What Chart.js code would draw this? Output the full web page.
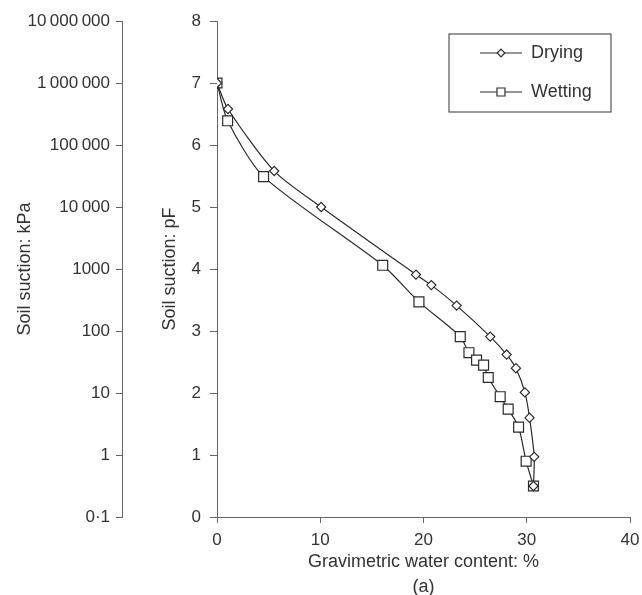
<!DOCTYPE html>
<html>
<head>
<meta charset="utf-8">
<script src="https://cdn.jsdelivr.net/npm/chart.js@4.4.1/dist/chart.umd.min.js"></script>
<style>
  html, body { margin: 0; padding: 0; background: #fff; }
  #wrap { width: 642px; height: 595px; }
</style>
</head>
<body>
<div id="wrap"><canvas id="suction-chart"></canvas></div>
<script>
/* soil water retention: drying vs wetting path */

const dryingWater = [0, 1.06, 5.54, 10.09, 19.27, 20.76, 23.21, 26.46, 28.05, 28.95, 29.82, 30.27, 30.72, 30.65];
const dryingPF    = [7.0, 6.58, 5.58, 5.0, 3.91, 3.74, 3.41, 2.91, 2.62, 2.40, 2.01, 1.60, 0.97, 0.50];

const wettingWater = [0, 1.03, 4.51, 16.05, 19.56, 23.56, 24.40, 25.14, 25.82, 26.27, 27.43, 28.20, 29.21, 29.94, 30.65];
const wettingPF    = [7.0, 6.39, 5.49, 4.06, 3.47, 2.91, 2.65, 2.53, 2.45, 2.25, 1.94, 1.74, 1.45, 0.90, 0.50];

const kpaTicks  = [0.1, 1, 10, 100, 1000, 10000, 100000, 1000000, 10000000];
const kpaLabels = ['0·1', '1', '10', '100', '1000', '10\u2009000', '100\u2009000', '1\u2009000\u2009000', '10\u2009000\u2009000'];

const FONT = "'Liberation Sans', Arial, sans-serif";
const INK = '#2b2b2b';
const AXIS = '#666';

function toPoints(xs, ys) {
    return xs.map((x, i) => ({ x: x, y: ys[i] }));
}

// small marker helper for the legend
function drawMarker(ctx, style, x, y, r) {
    ctx.beginPath();
    if (style === 'rectRot') {
        ctx.moveTo(x, y - r);
        ctx.lineTo(x + r, y);
        ctx.lineTo(x, y + r);
        ctx.lineTo(x - r, y);
    } else {
        ctx.rect(x - r, y - r, 2 * r, 2 * r);
    }
    ctx.closePath();
    ctx.fillStyle = '#fff';
    ctx.fill();
    ctx.stroke();
}

const legendBox = {
    id: 'legendBox',
    afterDatasetsDraw(chart) {
        const { ctx, chartArea } = chart;
        const bx = chartArea.right - 181, by = chartArea.top + 13, bw = 162, bh = 78;
        ctx.save();
        ctx.strokeStyle = '#555';
        ctx.lineWidth = 1.2;
        ctx.strokeRect(bx, by, bw, bh);

        const rows = [
            { label: chart.data.datasets[0].label, style: 'rectRot', r: 3.8, y: by + 19 },
            { label: chart.data.datasets[1].label, style: 'rect', r: 4, y: by + 58 }
        ];
        rows.forEach(row => {
            ctx.strokeStyle = INK;
            ctx.lineWidth = 1.2;
            ctx.beginPath();
            ctx.moveTo(bx + 31, row.y);
            ctx.lineTo(bx + 73, row.y);
            ctx.stroke();
            drawMarker(ctx, row.style, bx + 52, row.y, row.r);
            ctx.fillStyle = '#333';
            ctx.font = '18px ' + FONT;
            ctx.textBaseline = 'middle';
            ctx.textAlign = 'left';
            ctx.fillText(row.label, bx + 82, row.y);
        });
        ctx.restore();
    }
};

const ctx = document.getElementById('suction-chart').getContext('2d');
new Chart(ctx, {
    type: 'scatter',
    data: {
        datasets: [{
            label: 'Drying',
            data: toPoints(dryingWater, dryingPF),
            showLine: true,
            tension: 0.25,
            borderColor: INK,
            borderWidth: 1.2,
            pointStyle: 'rectRot',
            pointRadius: 4.6,
            pointBackgroundColor: '#fff',
            pointBorderColor: INK,
            pointBorderWidth: 1.2,
            yAxisID: 'pf'
        }, {
            label: 'Wetting',
            data: toPoints(wettingWater, wettingPF),
            showLine: true,
            tension: 0.25,
            borderColor: INK,
            borderWidth: 1.2,
            pointStyle: 'rect',
            pointRadius: 7,
            pointBackgroundColor: '#fff',
            pointBorderColor: INK,
            pointBorderWidth: 1.2,
            yAxisID: 'pf'
        }]
    },
    options: {
        responsive: true,
        maintainAspectRatio: false,
        animation: false,
        layout: { padding: { top: 21, right: 12, left: 0, bottom: 0 } },
        plugins: {
            legend: { display: false },
            tooltip: { enabled: false }
        },
        scales: {
            x: {
                type: 'linear',
                position: 'bottom',
                min: 0, max: 40,
                ticks: { stepSize: 10, color: '#333', padding: 7, font: { family: FONT, size: 17 } },
                grid: { drawOnChartArea: false, drawTicks: true, tickLength: 6, color: AXIS },
                border: { color: AXIS, width: 1 },
                title: {
                    display: true,
                    text: ['Gravimetric water content: %', '(a)'],
                    color: '#333',
                    font: { family: FONT, size: 18, lineHeight: 1.39 },
                    padding: { top: 0, bottom: -4.5 }
                },
                afterFit: s => { s.height = 78; s.paddingRight = 0; }
            },
            kpa: {
                type: 'logarithmic',
                position: 'left',
                weight: 10,
                min: 0.1, max: 10000000,
                afterBuildTicks: s => { s.ticks = kpaTicks.map(v => ({ value: v })); },
                ticks: {
                    color: '#333', padding: 6, autoSkip: false,
                    font: { family: FONT, size: 17 },
                    callback: (v, i) => kpaLabels[i]
                },
                grid: { drawOnChartArea: false, drawTicks: true, tickLength: 6, color: AXIS },
                border: { color: AXIS, width: 1 },
                title: {
                    display: true,
                    text: 'Soil suction: kPa',
                    color: '#333',
                    font: { family: FONT, size: 18 },
                    padding: { top: 14, bottom: 0 }
                },
                afterFit: s => { s.width = 122; }
            },
            pf: {
                type: 'linear',
                position: 'left',
                weight: 0,
                min: 0, max: 8,
                ticks: { stepSize: 1, color: '#333', padding: 9, font: { family: FONT, size: 17 } },
                grid: { drawOnChartArea: false, drawTicks: true, tickLength: 7, color: AXIS },
                border: { color: AXIS, width: 1 },
                title: {
                    display: true,
                    text: 'Soil suction: pF',
                    color: '#333',
                    font: { family: FONT, size: 18 },
                    padding: { top: 37, bottom: 0 }
                },
                afterFit: s => { s.width = 95; }
            }
        }
    },
    plugins: [legendBox]
});
</script>
</body>
</html>
